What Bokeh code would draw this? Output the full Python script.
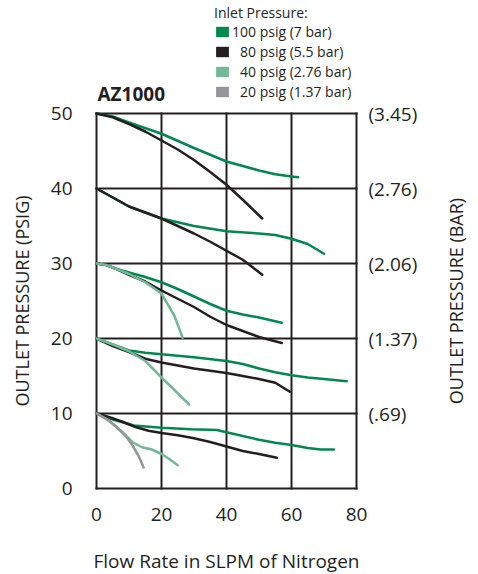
import math
from bokeh.plotting import figure
from bokeh.models import Range1d, LinearAxis, FixedTicker, Legend, LegendItem, Label
from bokeh.embed import file_html
from bokeh.resources import INLINE

FONT = "Open Sans"
GREEN = "#00894f"
BLACK = "#231f20"
LIGHT = "#72b996"
GRAY = "#939598"

x_ticks = [0, 20, 40, 60, 80]
y_ticks = [0, 10, 20, 30, 40, 50]
bar_labels = {50: "(3.45)", 40: "(2.76)", 30: "(2.06)", 20: "(1.37)", 10: "(.69)", 0: ""}
legend_labels = ["100 psig (7 bar)", "\u200780 psig (5.5 bar)", "\u200740 psig (2.76 bar)", "\u200720 psig (1.37 bar)"]
legend_colors = [GREEN, BLACK, LIGHT, GRAY]

# Outlet set 50 psig
g50_x = [0, 5, 10, 20, 30, 40, 50, 55, 60, 62]
g50_y = [50, 49.6, 48.8, 47.3, 45.4, 43.6, 42.4, 41.9, 41.6, 41.5]
b50_x = [0, 5, 10, 15, 20, 25, 30, 35, 40, 45, 51]
b50_y = [50, 49.5, 48.6, 47.6, 46.4, 45.2, 43.8, 42.2, 40.5, 38.5, 36.0]
# Outlet set 40 psig
g40_x = [0, 5, 10, 15, 20, 30, 40, 50, 55, 60, 65, 70]
g40_y = [40, 38.8, 37.6, 36.8, 36.0, 35.0, 34.3, 34.0, 33.8, 33.3, 32.6, 31.3]
b40_x = [0, 5, 10, 15, 20, 25, 30, 35, 40, 45, 51]
b40_y = [40, 38.8, 37.6, 36.8, 36.0, 35.0, 34.0, 32.9, 31.7, 30.5, 28.5]
# Outlet set 30 psig
g30_x = [0, 3, 6, 10, 15, 20, 25, 30, 35, 40, 45, 50, 57]
g30_y = [30, 29.8, 29.3, 28.8, 28.2, 27.5, 26.6, 25.6, 24.6, 23.7, 23.2, 22.8, 22.1]
b30_x = [0, 3, 6, 10, 15, 20, 25, 30, 35, 40, 45, 50, 57]
b30_y = [30, 29.8, 29.3, 28.5, 27.6, 26.4, 25.3, 24.2, 22.9, 21.8, 21.0, 20.2, 19.4]
l30_x = [0, 3, 6, 10, 15, 20, 24, 26.5]
l30_y = [30, 29.8, 29.3, 28.6, 27.5, 26.0, 23.0, 20.1]
# Outlet set 20 psig
g20_x = [0, 5, 10, 15, 20, 30, 40, 45, 50, 55, 60, 65, 70, 77]
g20_y = [20, 19.2, 18.4, 18.1, 17.9, 17.5, 17.0, 16.6, 16.0, 15.5, 15.1, 14.8, 14.6, 14.3]
b20_x = [0, 5, 10, 15, 20, 25, 30, 35, 40, 45, 50, 55, 59.5]
b20_y = [20, 19.0, 18.2, 17.3, 16.8, 16.4, 16.0, 15.7, 15.4, 15.0, 14.6, 14.1, 12.9]
l20_x = [0, 5, 10, 15, 20, 25, 28.5]
l20_y = [20, 19.2, 18.3, 17.0, 14.8, 12.7, 11.2]
# Outlet set 10 psig
g10_x = [0, 5, 11.5, 20, 29, 37, 40, 45, 50, 55, 60, 65, 69, 73]
g10_y = [10, 9.2, 8.4, 8.1, 7.9, 7.8, 7.5, 7.0, 6.5, 6.1, 5.8, 5.4, 5.2, 5.2]
b10_x = [0, 4, 8, 12, 16, 20, 25, 30, 35, 40, 45, 50, 55.5]
b10_y = [10, 9.5, 8.9, 8.2, 7.7, 7.4, 7.1, 6.7, 6.2, 5.6, 5.0, 4.6, 4.1]
l10_x = [0, 4, 8, 11, 14, 17, 20, 22.5, 25]
l10_y = [10, 9.0, 7.5, 6.2, 5.5, 5.2, 4.6, 3.9, 3.1]
s10_x = [0, 3, 6, 9, 11, 13, 14.5]
s10_y = [10, 9.3, 8.3, 7.0, 5.8, 4.3, 2.8]

W, H = 478, 574
# chart box in the picture: x 0..80 -> px 96..356, y 0..50 -> px 488..113
XS = 260 / 80.0
YS = 375 / 50.0
X0, Y0 = 96, 488

def dx(px):
    return (px - X0) / XS

def dy(py):
    return (Y0 - py) / YS

p = figure(width=W, height=H, output_backend="svg", toolbar_location=None,
           x_range=Range1d(dx(0), dx(W)), y_range=Range1d(dy(H), dy(0)), min_border=0)
p.background_fill_color = "white"
p.border_fill_color = "white"
p.outline_line_color = None

# grid / chart box
has_cross = "cross_bounds" in p.xgrid[0].properties()
if has_cross:
    p.xgrid.ticker = FixedTicker(ticks=x_ticks)
    p.ygrid.ticker = FixedTicker(ticks=y_ticks)
    p.xgrid.cross_bounds = (y_ticks[0], y_ticks[-1])
    p.ygrid.cross_bounds = (x_ticks[0], x_ticks[-1])
    for g in (p.xgrid, p.ygrid):
        g.grid_line_color = BLACK
        g.grid_line_width = 2
        g.grid_line_cap = "square"
else:
    p.grid.visible = False
    p.segment(x0=x_ticks, y0=[y_ticks[0]] * len(x_ticks), x1=x_ticks, y1=[y_ticks[-1]] * len(x_ticks),
              line_color=BLACK, line_width=2, line_cap="square")
    p.segment(x0=[x_ticks[0]] * len(y_ticks), y0=y_ticks, x1=[x_ticks[-1]] * len(y_ticks), y1=y_ticks,
              line_color=BLACK, line_width=2, line_cap="square")

# axes drawn at the chart box edges
right = LinearAxis(ticker=FixedTicker(ticks=[10, 20, 30, 40, 50]),
                   major_label_overrides=bar_labels)
p.add_layout(right, "right")
p.xaxis.ticker = FixedTicker(ticks=x_ticks)
p.yaxis[0].ticker = FixedTicker(ticks=y_ticks)
p.xaxis.fixed_location = y_ticks[0]
p.yaxis[0].fixed_location = x_ticks[0]
right.fixed_location = x_ticks[-1]
for ax in [p.xaxis[0], p.yaxis[0], right]:
    ax.axis_line_color = None
    ax.major_tick_line_color = None
    ax.minor_tick_line_color = None
    ax.major_label_text_font = FONT
    ax.major_label_text_font_size = "19px"
    ax.major_label_text_color = BLACK
p.xaxis.major_label_standoff = 13
p.yaxis[0].major_label_standoff = 18
right.major_label_standoff = 6

series = [
    (g50_x, g50_y, GREEN), (b50_x, b50_y, BLACK),
    (g40_x, g40_y, GREEN), (b40_x, b40_y, BLACK),
    (g30_x, g30_y, GREEN), (b30_x, b30_y, BLACK), (l30_x, l30_y, LIGHT),
    (g20_x, g20_y, GREEN), (b20_x, b20_y, BLACK), (l20_x, l20_y, LIGHT),
    (g10_x, g10_y, GREEN), (b10_x, b10_y, BLACK), (l10_x, l10_y, LIGHT), (s10_x, s10_y, GRAY),
]
for xs, ys, c in series:
    p.line(xs, ys, line_color=c, line_width=2.5, line_join="round", line_cap="round")

# titles
def label(x, y, text, size, angle=0.0, bold=False, align="center"):
    p.add_layout(Label(x=x, y=y, text=text, angle=angle, text_align=align, text_baseline="middle",
                       text_font=FONT, text_font_size=size, text_color=BLACK,
                       text_font_style="bold" if bold else "normal"))

label(dx(97), dy(93.5), "AZ1000", "19px", bold=True, align="left")
label(dx(21.5), dy(300.5), "OUTLET PRESSURE (PSIG)", "18px", angle=math.pi / 2)
label(dx(455), dy(300.5), "OUTLET PRESSURE (BAR)", "18px", angle=math.pi / 2)
label(dx(226), dy(560.5), "Flow Rate in SLPM of Nitrogen", "19px")

# legend (proxy renderers of zero size)
items = []
for lab, col in zip(legend_labels, legend_colors):
    r = p.quad(left=[0], right=[0], top=[0], bottom=[0], fill_color=col, line_color=None)
    items.append(LegendItem(label=lab, renderers=[r]))
legend = Legend(items=items, location=(214, H - 101), title="Inlet Pressure:",
                title_text_font=FONT, title_text_font_size="14px", title_text_font_style="normal",
                title_text_color=BLACK, title_standoff=0,
                label_text_font=FONT, label_text_font_size="14px", label_text_color=BLACK,
                glyph_width=16, glyph_height=13, label_standoff=2, label_height=19, spacing=1,
                padding=0, margin=0, border_line_color=None, background_fill_alpha=0)
p.add_layout(legend)

open("out.html", "w").write(file_html(p, INLINE))
